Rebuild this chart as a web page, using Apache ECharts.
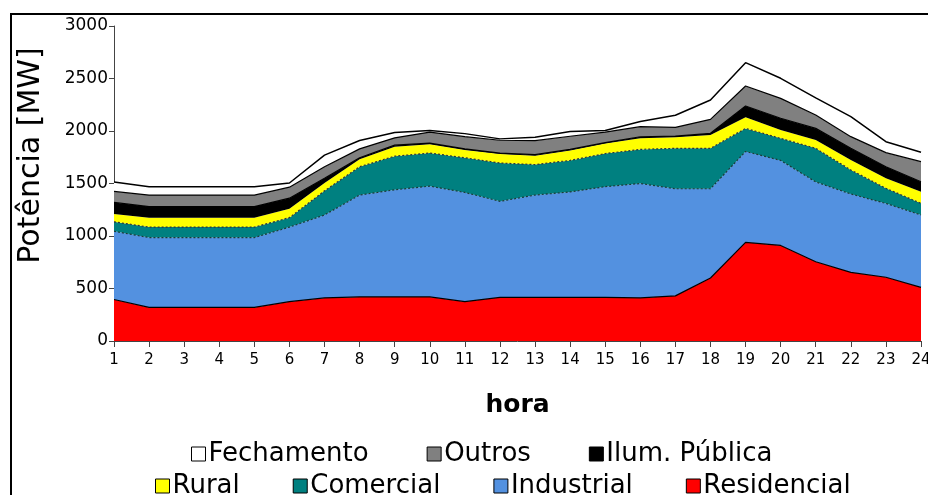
<!DOCTYPE html>
<html>
<head>
<meta charset="utf-8">
<script src="https://cdn.jsdelivr.net/npm/echarts@6/dist/echarts.min.js"></script>
<style>
  html, body { margin: 0; padding: 0; background: #fff; }
  #chart { width: 928px; height: 495px; }
</style>
</head>
<body>
<div id="chart"></div>
<script>
// horas do dia
const horas = ['1','2','3','4','5','6','7','8','9','10','11','12','13','14','15','16','17','18','19','20','21','22','23','24'];

// potência por classe [MW] (empilhada, de baixo para cima)
const residencial = [395, 320, 320, 320, 320, 375, 410, 420, 420, 420, 375, 416, 416, 416, 416, 410, 430, 600, 940, 910, 755, 654, 607, 511];
const industrial  = [650, 665, 665, 665, 665, 710, 790, 970, 1020, 1055, 1040, 914, 974, 1004, 1054, 1090, 1020, 850, 865, 810, 760, 746, 703, 689];
const comercial   = [90, 100, 100, 100, 100, 90, 230, 270, 320, 315, 330, 365, 290, 300, 315, 325, 385, 385, 220, 210, 320, 229, 144, 111];
const rural       = [75, 90, 90, 90, 90, 85, 75, 70, 90, 85, 75, 85, 85, 95, 95, 105, 105, 127, 105, 80, 79, 95, 95, 111];
const ilumPublica = [110, 105, 105, 105, 105, 100, 45, 15, 15, 10, 10, 10, 10, 10, 10, 15, 12, 16, 108, 111, 111, 111, 111, 95];
const outros      = [105, 110, 110, 110, 110, 105, 110, 85, 70, 105, 116, 122, 133, 125, 100, 96, 83, 133, 191, 190, 127, 111, 134, 191];
const fechamento  = [90, 80, 80, 80, 80, 40, 110, 80, 50, 15, 29, 13, 32, 45, 15, 49, 115, 184, 222, 191, 163, 191, 104, 90];

const fonte = 'DejaVu Sans';

function camada(nome, dados, cor, linha) {
  return {
    name: nome,
    type: 'line',
    stack: 'total',
    data: dados,
    symbol: 'none',
    silent: true,
    itemStyle: { color: cor },
    lineStyle: Object.assign({ color: '#000', width: 1.2 }, linha || {}),
    areaStyle: { color: cor, opacity: 1 },
    emphasis: { disabled: true }
  };
}

function legenda(itens, left, top, gap) {
  return {
    data: itens,
    left: left,
    top: top,
    itemGap: gap,
    itemWidth: 14,
    itemHeight: 14,
    icon: 'rect',
    itemStyle: { borderColor: '#000', borderWidth: 1 },
    textStyle: { fontFamily: fonte, fontSize: 26, color: '#000', padding: [0, 0, 0, -2] }
  };
}

const chart = echarts.init(document.getElementById('chart'));

chart.setOption({
  animation: false,
  backgroundColor: '#fff',
  graphic: [{
    type: 'rect',
    shape: { x: 11, y: 14, width: 940, height: 500 },
    style: { fill: 'none', stroke: '#000', lineWidth: 2 },
    silent: true,
    z: -10
  }],
  grid: { left: 114, right: 7, top: 26, bottom: 154, outerBoundsMode: 'none' },
  legend: [
    legenda(['Fechamento', 'Outros', 'Ilum. Pública'], 186, 436, 58),
    legenda(['Rural', 'Comercial', 'Industrial', 'Residencial'], 150, 468, 53)
  ],
  xAxis: {
    type: 'category',
    data: horas,
    boundaryGap: false,
    name: 'hora',
    nameLocation: 'middle',
    nameGap: 52,
    nameTextStyle: { fontFamily: fonte, fontSize: 25, fontWeight: 'bold', color: '#000' },
    axisLine: { lineStyle: { color: '#444', width: 1 } },
    axisTick: { show: true, length: 6, interval: 0, lineStyle: { color: '#444' } },
    axisLabel: { interval: 0, margin: 12, fontFamily: fonte, fontSize: 15, color: '#000' },
    splitLine: { show: false }
  },
  yAxis: {
    type: 'value',
    min: 0,
    max: 3000,
    interval: 500,
    name: 'Potência [MW]',
    nameLocation: 'middle',
    nameGap: 68,
    nameTextStyle: { fontFamily: fonte, fontSize: 30, color: '#000', padding: [0, 0, 0, 56] },
    axisLine: { show: true, lineStyle: { color: '#444', width: 1 } },
    axisTick: { show: true, length: 5, lineStyle: { color: '#444' } },
    axisLabel: { margin: 6, fontFamily: fonte, fontSize: 17, color: '#000', formatter: v => String(v) },
    splitLine: { show: false }
  },
  series: [
    camada('Residencial', residencial, '#ff0000'),
    camada('Industrial', industrial, '#5391e0', { type: [2, 2], color: '#1a3a3a' }),
    camada('Comercial', comercial, '#008080', { type: [2, 2], color: '#333' }),
    camada('Rural', rural, '#ffff00', { color: '#ffff00', width: 0 }),
    camada('Ilum. Pública', ilumPublica, '#000000'),
    camada('Outros', outros, '#808080'),
    camada('Fechamento', fechamento, '#ffffff', { width: 1.5 })
  ]
});
</script>
</body>
</html>
